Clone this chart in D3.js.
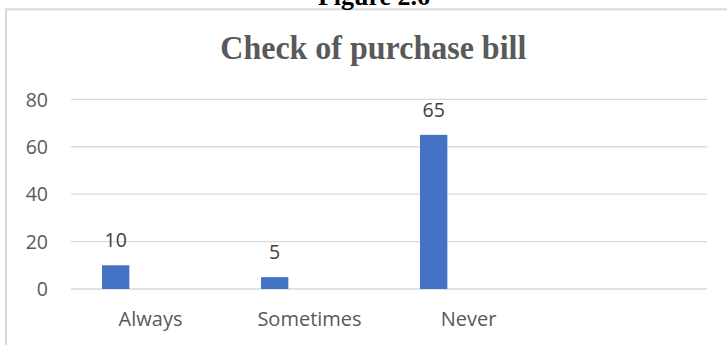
<!DOCTYPE html>
<html>
<head>
<meta charset="utf-8">
<script src="https://cdn.jsdelivr.net/npm/d3@7"></script>
<style>
  html, body { margin: 0; padding: 0; background: #fff; }
  svg { display: block; }
</style>
</head>
<body>
<svg id="chart" width="727" height="345"></svg>
<script>
// Responses to "Check of purchase bill"
const categories = ["Always", "Sometimes", "Never", ""];
const values = [10, 5, 65, null];
const yTicks = [0, 20, 40, 60, 80];

const W = 727, H = 345;
const svg = d3.select("#chart");

// Frame around the chart area
svg.append("rect")
  .attr("x", 6).attr("y", 9.3)
  .attr("width", W + 10).attr("height", H + 10)
  .attr("fill", "none").attr("stroke", "#d9d9d9").attr("stroke-width", 2);

// Figure caption above the frame
svg.append("text")
  .attr("x", 374).attr("y", 5)
  .attr("text-anchor", "middle")
  .attr("font-family", "Liberation Serif, Times New Roman, serif")
  .attr("font-weight", "bold").attr("font-size", 26)
  .attr("fill", "#000")
  .text("Figure 2.6");

// Chart title
svg.append("text")
  .attr("x", 373.3).attr("y", 59.3)
  .attr("text-anchor", "middle")
  .attr("font-family", "Liberation Serif, Times New Roman, serif")
  .attr("font-weight", "bold").attr("font-size", 34)
  .attr("textLength", 306).attr("lengthAdjust", "spacingAndGlyphs")
  .attr("fill", "#595959")
  .text("Check of purchase bill");

const x = d3.scaleBand().domain(categories).range([71, 707]).padding(0);
const y = d3.scaleLinear().domain([0, 80]).range([289, 99.3]);

// Horizontal gridlines
svg.append("g")
  .selectAll("line")
  .data(yTicks)
  .join("line")
  .attr("x1", 71).attr("x2", 707)
  .attr("y1", d => y(d)).attr("y2", d => y(d))
  .attr("stroke", "#d9d9d9").attr("stroke-width", 1.3);

// Y axis labels
const yAxis = d3.axisLeft(y).tickValues(yTicks).tickSize(0).tickPadding(0);
const gy = svg.append("g").attr("transform", "translate(48,0)").call(yAxis);
gy.select(".domain").remove();
gy.selectAll("text")
  .attr("font-family", "Open Sans, sans-serif")
  .attr("font-size", 19.5)
  .attr("fill", "#595959")
  .attr("dy", "0.35em");

// Category labels
const xAxis = d3.axisBottom(x).tickSize(0).tickPadding(0);
const gx = svg.append("g").attr("transform", "translate(0,289)").call(xAxis);
gx.select(".domain").remove();
gx.selectAll("text")
  .attr("font-family", "Open Sans, sans-serif")
  .attr("font-size", 20)
  .attr("fill", "#595959")
  .attr("y", 36.5).attr("dy", 0);

// Bars sit at the left part of each category slot
const barOffset = x.bandwidth() * 0.195;
const barWidth = x.bandwidth() * 0.172;
const data = categories.map((c, i) => ({ c, v: values[i] })).filter(d => d.v != null);

svg.append("g")
  .selectAll("rect")
  .data(data)
  .join("rect")
  .attr("x", d => x(d.c) + barOffset)
  .attr("width", barWidth)
  .attr("y", d => y(d.v))
  .attr("height", d => y(0) - y(d.v))
  .attr("fill", "#4472c4");

// Value labels
svg.append("g")
  .selectAll("text")
  .data(data)
  .join("text")
  .attr("x", d => x(d.c) + barOffset + barWidth / 2)
  .attr("y", d => y(d.v) - 18)
  .attr("text-anchor", "middle")
  .attr("font-family", "Open Sans, sans-serif")
  .attr("font-size", 19.5)
  .attr("fill", "#404040")
  .text(d => d.v);
</script>
</body>
</html>
